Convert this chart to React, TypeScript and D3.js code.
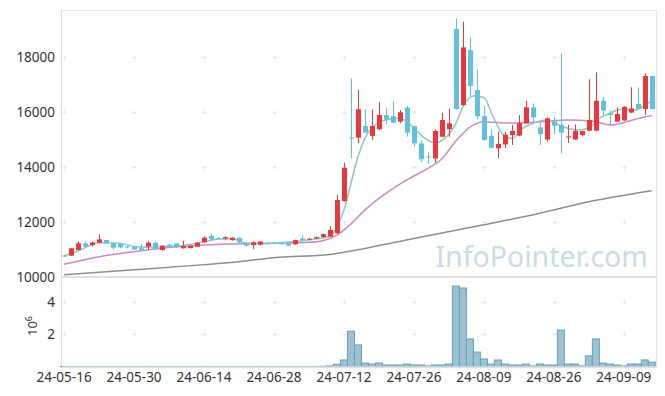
import * as d3 from 'd3';

// trading days shown on the chart
const dates = [
  '24-05-16', '24-05-17', '24-05-20', '24-05-21', '24-05-22', '24-05-23', '24-05-24', '24-05-27', '24-05-28', '24-05-29',
  '24-05-30', '24-05-31', '24-06-03', '24-06-04', '24-06-05', '24-06-07', '24-06-10', '24-06-11', '24-06-12', '24-06-13',
  '24-06-14', '24-06-17', '24-06-18', '24-06-19', '24-06-20', '24-06-21', '24-06-24', '24-06-25', '24-06-26', '24-06-27',
  '24-06-28', '24-07-01', '24-07-02', '24-07-03', '24-07-04', '24-07-05', '24-07-08', '24-07-09', '24-07-10', '24-07-11',
  '24-07-12', '24-07-15', '24-07-16', '24-07-17', '24-07-18', '24-07-19', '24-07-22', '24-07-23', '24-07-24', '24-07-25',
  '24-07-26', '24-07-29', '24-07-30', '24-07-31', '24-08-01', '24-08-02', '24-08-05', '24-08-06', '24-08-07', '24-08-08',
  '24-08-09', '24-08-12', '24-08-13', '24-08-14', '24-08-16', '24-08-19', '24-08-20', '24-08-21', '24-08-22', '24-08-23',
  '24-08-26', '24-08-27', '24-08-28', '24-08-29', '24-08-30', '24-09-02', '24-09-03', '24-09-04', '24-09-05', '24-09-06',
  '24-09-09', '24-09-10', '24-09-11', '24-09-12', '24-09-13',
];

const opens = [
  10780, 10775, 10980, 11225, 11160, 11250, 11345, 11225, 11200, 11110,
  11100, 11045, 11100, 11250, 10980, 11180, 11220, 11045, 11050, 11100,
  11260, 11490, 11410, 11400, 11340, 11430, 11225, 11160, 11180, 11240,
  11240, 11260, 11230, 11190, 11400, 11380, 11400, 11450, 11470, 11590,
  12760, 15080, 15065, 15490, 15130, 15370, 15890, 15850, 15650, 16160,
  15490, 14860, 14380, 14310, 15100, 15380, 19020, 16250, 18250, 16800,
  15850, 15130, 14680, 14820, 15160, 15140, 15590, 16170, 15440, 15000,
  15650, 15530, 15080, 15000, 15160, 15320, 15320, 16410, 15950, 15650,
  15690, 15980, 16290, 16110, 17310,
];
const highs = [
  10800, 11060, 11300, 11290, 11280, 11550, 11350, 11240, 11220, 11150,
  11110, 11200, 11300, 11280, 11150, 11200, 11230, 11320, 11150, 11270,
  11480, 11570, 11450, 11480, 11450, 11440, 11240, 11300, 11300, 11260,
  11260, 11270, 11240, 11360, 11500, 11420, 11470, 11580, 11850, 12980,
  14155, 17230, 16800, 16100, 16100, 16350, 16130, 16400, 16070, 16220,
  15500, 14980, 14560, 15370, 15970, 16130, 19400, 19280, 18740, 17550,
  16220, 15370, 15280, 15280, 15530, 15890, 16410, 16310, 15600, 15800,
  15800, 18130, 15530, 15550, 15310, 17190, 17440, 16550, 16050, 16170,
  16210, 16900, 16900, 17410, 17320,
];
const lows = [
  10720, 10770, 10960, 11090, 11100, 11230, 11220, 11000, 11040, 11040,
  10990, 10930, 10990, 11000, 10950, 11080, 11070, 11030, 11040, 11090,
  11250, 11330, 11370, 11330, 11320, 11250, 11100, 11020, 11150, 11210,
  11210, 11180, 11110, 11170, 11330, 11360, 11390, 11440, 11460, 11560,
  12740, 14320, 14860, 15240, 14980, 15350, 15560, 15590, 15590, 15100,
  14740, 14190, 14110, 14160, 15080, 15100, 16080, 16230, 16580, 15720,
  14970, 14680, 14320, 14690, 14800, 15120, 15570, 15580, 14800, 14920,
  15200, 14500, 14880, 14990, 15120, 15300, 15300, 15890, 15500, 15640,
  15680, 15960, 16100, 15890, 16100,
];
const closes = [
  10750, 11045, 11225, 11100, 11260, 11370, 11225, 11065, 11080, 11095,
  11000, 10960, 11250, 11020, 11140, 11100, 11080, 11130, 11130, 11250,
  11430, 11370, 11400, 11450, 11430, 11260, 11140, 11260, 11290, 11230,
  11230, 11190, 11140, 11340, 11340, 11390, 11450, 11560, 11710, 12800,
  13975, 15040, 16100, 15250, 15490, 15890, 15730, 15610, 15990, 15250,
  14860, 14280, 14350, 15310, 15710, 15590, 16110, 18350, 16945, 15850,
  14980, 14700, 14840, 15180, 15310, 15590, 16170, 15810, 15200, 15770,
  15500, 15250, 15110, 15310, 15310, 15710, 16410, 16050, 15890, 15930,
  16190, 16130, 16110, 17310, 16110,
];

// volume, millions of shares
const volumes = [
  0.01, 0.01, 0.01, 0.01, 0.01, 0.01, 0.01, 0.01, 0.01, 0.01,
  0.01, 0.01, 0.01, 0.01, 0.01, 0.01, 0.01, 0.01, 0.01, 0.01,
  0.01, 0.01, 0.01, 0.01, 0.01, 0.01, 0.01, 0.01, 0.01, 0.01,
  0.01, 0.01, 0.01, 0.01, 0.01, 0.01, 0.01, 0.02, 0.04, 0.14,
  0.41, 2.19, 1.34, 0.22, 0.16, 0.22, 0.10, 0.10, 0.10, 0.16,
  0.10, 0.10, 0.04, 0.10, 0.10, 0.16, 4.98, 4.86, 1.71, 0.90,
  0.47, 0.16, 0.41, 0.16, 0.10, 0.10, 0.16, 0.04, 0.16, 0.10,
  0.10, 2.26, 0.16, 0.16, 0.04, 0.66, 1.71, 0.22, 0.16, 0.10,
  0.04, 0.16, 0.16, 0.41, 0.28,
];

// moving averages (day index, price)
const ma5Days = [0, 2, 4, 5, 8, 10, 12, 14, 17, 20, 22, 24, 26, 28, 30, 33, 36, 38, 39, 40, 41, 42, 43, 44.4, 46, 47.5, 48.7, 50, 51.6, 53, 54.4, 56, 57, 58.5, 60, 61.3, 62.8, 64, 65.6, 67, 69, 70, 71.6, 73.5, 75, 76.5, 78, 79.7, 81.6, 83, 84];
const ma5Values = [10764, 10950, 11180, 11250, 11230, 11110, 11080, 11110, 11150, 11280, 11380, 11390, 11240, 11220, 11230, 11290, 11380, 11470, 11830, 12440, 13410, 14370, 15040, 15530, 15710, 15770, 15710, 15410, 15040, 14880, 15040, 15590, 16190, 16580, 16530, 15830, 15160, 15040, 15410, 15590, 15710, 15610, 15440, 15350, 15410, 15770, 15950, 16100, 16070, 16250, 16410];
const ma20Days = [0, 5, 10, 15, 20, 25, 30, 35, 37, 39, 41, 43, 46, 49, 52, 54, 56, 58.5, 60, 63, 68, 72, 75, 77, 78, 80.5, 82, 84];
const ma20Values = [10460, 10740, 10920, 11070, 11160, 11210, 11230, 11260, 11320, 11520, 11930, 12440, 13040, 13530, 13950, 14300, 14950, 15530, 15650, 15600, 15640, 15710, 15680, 15580, 15530, 15650, 15760, 15870];
const maLongDays = [0, 10, 20, 25, 30, 38, 43, 50, 56, 60, 68, 75, 84];
const maLongValues = [10080, 10260, 10450, 10556, 10700, 10820, 11040, 11400, 11700, 11900, 12320, 12740, 13140];

const tickEvery = 10;
const priceTicks = [10000, 12000, 14000, 16000, 18000];
const volumeTicks = [2, 4];

const W = 665;
const H = 396;
const left = 62;
const right = 656;
const priceTop = 10;
const priceBottom = 277;
const volBottom = 366.6;

const RED = '#e8383d';
const BLUE = '#62c0dc';
const FONT = '"Noto Sans", "DejaVu Sans", sans-serif';

export default function App() {
  const x = d3.scaleLinear().domain([-0.3, 84.6]).range([left, right]);
  const y = d3.scaleLinear().domain([10000, 19710]).range([priceBottom, priceTop]);
  const yVol = d3.scaleLinear().domain([0, 5.54]).range([volBottom, priceBottom]);
  const step = x(1) - x(0);

  const maLine = d3.line<[number, number]>()
    .x(d => x(d[0]))
    .y(d => y(d[1]))
    .curve(d3.curveMonotoneX);

  const ma5 = ma5Days.map((d, i) => [d, ma5Values[i]] as [number, number]);
  const ma20 = ma20Days.map((d, i) => [d, ma20Values[i]] as [number, number]);
  const maLong = maLongDays.map((d, i) => [d, maLongValues[i]] as [number, number]);

  const tickIdx = d3.range(0, dates.length, tickEvery);

  // small "+" marks where the grid would cross
  const cross = (cx: number, cy: number, key: string) => (
    <g key={key} stroke="#e4e4e4" strokeWidth={1}>
      <line x1={cx - 2} x2={cx + 2} y1={cy} y2={cy} />
      <line x1={cx} x2={cx} y1={cy - 2} y2={cy + 2} />
    </g>
  );

  return (
    <div style={{ position: 'fixed', left: 0, top: 0 }}>
      <svg width={W} height={H} style={{ display: 'block', background: '#fff' }}>
        {tickIdx.map(t => priceTicks.slice(1).map(p => cross(Math.round(x(t)) + 0.5, Math.round(y(p)) + 0.5, `p${t}-${p}`)))}
        {tickIdx.map(t => volumeTicks.map(v => cross(Math.round(x(t)) + 0.5, Math.round(yVol(v)) + 0.5, `v${t}-${v}`)))}

        {/* frame */}
        <line x1={left} x2={right} y1={priceTop + 0.5} y2={priceTop + 0.5} stroke="#e6e6e6" />
        <line x1={right + 0.5} x2={right + 0.5} y1={priceTop} y2={volBottom} stroke="#e6e6e6" />
        <line x1={left - 0.5} x2={left - 0.5} y1={priceTop} y2={volBottom + 1} stroke="#e0e0e0" />

        {/* watermark */}
        <text x={648} y={267} textAnchor="end" fontFamily={FONT} fontSize={28.5} fill="#c8dce8">
          InfoPointer.com
        </text>

        {/* moving averages */}
        <path d={maLine(maLong) || ''} fill="none" stroke="#8e8e8e" strokeWidth={1.5} />
        <path d={maLine(ma20) || ''} fill="none" stroke="#c98ac4" strokeWidth={1.5} />
        <path d={maLine(ma5) || ''} fill="none" stroke="#8bcabd" strokeWidth={1.5} />

        {/* candles */}
        {dates.map((d, i) => {
          const up = closes[i] >= opens[i];
          const color = up ? RED : BLUE;
          const cx = Math.round(x(i)) + 0.5;
          const top = y(Math.max(opens[i], closes[i]));
          const bot = y(Math.min(opens[i], closes[i]));
          return (
            <g key={d}>
              <line x1={cx} x2={cx} y1={y(highs[i])} y2={y(lows[i])} stroke={color} strokeWidth={1} />
              <rect x={cx - 2.5} y={top} width={5} height={Math.max(bot - top, 1)} fill={color} />
            </g>
          );
        })}

        {/* volume */}
        {volumes.map((v, i) => (
          <rect
            key={dates[i]}
            x={x(i) - step / 2}
            y={yVol(v)}
            width={step}
            height={volBottom - yVol(v)}
            fill="#9ac2d3"
            stroke="#6a9fb8"
            strokeWidth={1}
          />
        ))}

        {/* panel separators */}
        <line x1={left} x2={right} y1={priceBottom} y2={priceBottom} stroke="#e0e0e0" strokeWidth={2} />
        <line x1={left} x2={right + 1} y1={volBottom + 0.7} y2={volBottom + 0.7} stroke="#e0e0e0" strokeWidth={2} />

        {/* price axis */}
        {priceTicks.map(p => (
          <text key={p} x={55} y={y(p)} dy="0.35em" textAnchor="end" fontFamily={FONT} fontSize={13.5} fill="#333">
            {p}
          </text>
        ))}

        {/* volume axis */}
        {volumeTicks.map(v => (
          <text key={v} x={55} y={yVol(v)} dy="0.35em" textAnchor="end" fontFamily={FONT} fontSize={13.5} fill="#333">
            {v}
          </text>
        ))}
        <text transform="translate(37,326) rotate(-90)" textAnchor="middle" fontFamily={FONT} fontSize={13} fill="#333">
          10<tspan dy={-5} fontSize={9}>6</tspan>
        </text>

        {/* date axis */}
        {tickIdx.map(t => (
          <text key={t} x={x(t)} y={381.5} textAnchor="middle" fontFamily={FONT} fontSize={13.5} fill="#333">
            {dates[t]}
          </text>
        ))}
      </svg>
    </div>
  );
}
